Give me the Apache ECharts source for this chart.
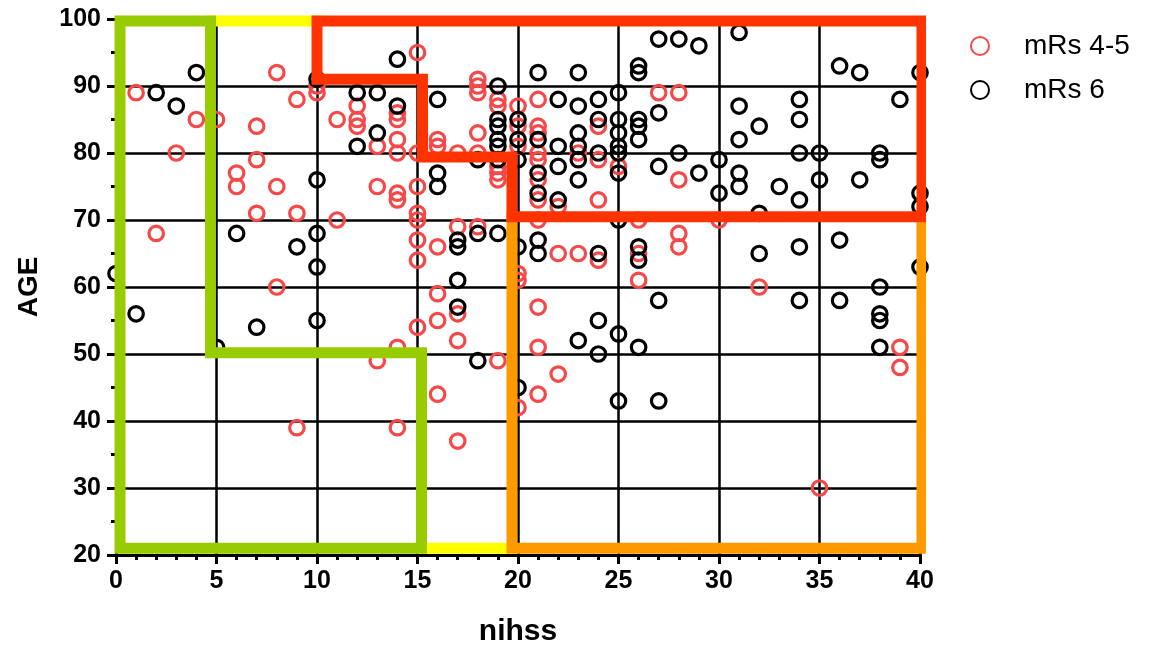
<!DOCTYPE html>
<html>
<head>
<meta charset="utf-8">
<script src="https://cdn.jsdelivr.net/npm/echarts@6/dist/echarts.min.js"></script>
<style>
html,body{margin:0;padding:0;background:#fff;}
#chart{width:1149px;height:647px;}
</style>
</head>
<body>
<div id="chart"></div>
<script>
// ---- data ----
const seriesNames = ['mRs 4-5', 'mRs 6'];
const mrs45 = [[1,89],[2,68],[3,80],[4,85],[5,85],[6,77],[6,75],[7,84],[7,79],[7,71],[8,92],[8,75],[8,60],[9,88],[9,71],[9,39],[10,89],[10,90],[11,85],[11,70],[12,87],[12,85],[12,84],[13,81],[13,75],[13,49],[14,86],[14,85],[14,82],[14,80],[14,74],[14,73],[14,51],[14,39],[15,95],[15,80],[15,75],[15,71],[15,70],[15,67],[15,64],[15,54],[16,82],[16,81],[16,66],[16,59],[16,55],[16,44],[17,80],[17,69],[17,56],[17,52],[17,37],[18,91],[18,90],[18,89],[18,83],[18,80],[18,69],[19,88],[19,87],[19,78],[19,77],[19,76],[19,49],[20,87],[20,84],[20,81],[20,62],[20,61],[20,42],[21,88],[21,84],[21,83],[21,80],[21,79],[21,76],[21,73],[21,70],[21,57],[21,51],[21,44],[22,72],[22,65],[22,47],[23,80],[23,65],[24,84],[24,79],[24,73],[24,64],[25,78],[26,70],[26,65],[26,61],[27,89],[28,89],[28,76],[28,68],[28,66],[30,70],[32,60],[35,30],[39,51],[39,48]];
const mrs6 = [[0,62],[1,56],[2,89],[3,87],[4,92],[5,51],[6,68],[7,54],[9,66],[10,91],[10,76],[10,68],[10,63],[10,55],[12,89],[12,81],[13,89],[13,83],[14,94],[14,87],[16,88],[16,77],[16,75],[17,67],[17,66],[17,61],[17,57],[18,79],[18,68],[18,49],[19,90],[19,85],[19,84],[19,82],[19,81],[19,79],[19,68],[20,85],[20,82],[20,79],[20,66],[20,45],[21,92],[21,82],[21,77],[21,74],[21,67],[21,65],[22,88],[22,81],[22,78],[22,73],[23,92],[23,87],[23,83],[23,81],[23,79],[23,76],[23,52],[24,88],[24,85],[24,80],[24,65],[24,55],[24,50],[25,89],[25,85],[25,83],[25,81],[25,80],[25,77],[25,70],[25,53],[25,43],[26,93],[26,92],[26,85],[26,84],[26,82],[26,66],[26,64],[26,51],[27,97],[27,86],[27,78],[27,58],[27,43],[28,97],[28,80],[29,96],[29,77],[30,79],[30,74],[31,98],[31,87],[31,82],[31,77],[31,75],[32,84],[32,71],[32,65],[33,75],[34,88],[34,85],[34,80],[34,73],[34,66],[34,58],[35,80],[35,76],[36,93],[36,67],[36,58],[37,92],[37,76],[38,80],[38,79],[38,60],[38,56],[38,55],[38,51],[39,88],[40,92],[40,74],[40,72],[40,63]];
// region outlines (nihss, age)
const yellowTop = [[4.7,99.7],[10,99.7]];
const yellowBottom = [[15.2,21],[19.7,21]];
const greenZone = [[0.2,21],[0.2,99.7],[4.7,99.7],[4.7,50.2],[15.2,50.2],[15.2,21],[0.2,21]];
const redZone = [[10,99.7],[40.1,99.7],[40.1,70.5],[19.7,70.5],[19.7,79.4],[15.25,79.4],[15.25,91],[10,91],[10,99.7]];
const orangeZone = [[19.7,70.5],[19.7,21],[40.1,21],[40.1,70.5]];
const xTicks = {min:0, max:40, interval:5};
const yTicks = {min:20, max:100, interval:10};

const FONT = "'Liberation Sans', Arial, sans-serif";
const chart = echarts.init(document.getElementById('chart'), null, {renderer:'canvas'});

function zone(data, color, z) {
  return {
    type:'line', data:data, showSymbol:false, symbol:'none', clip:false, z:z, silent:true,
    lineStyle:{color:color, width:11, join:'miter', cap:'square', opacity:1}
  };
}
const pointStyle = c => ({color:'rgba(0,0,0,0)', borderColor:c, borderWidth:3.2, opacity:1});

chart.setOption({
  animation:false,
  backgroundColor:'#fff',
  grid:{left:116, right:229, top:19, bottom:92, containLabel:false, outerBoundsMode:'none'},
  legend:{
    orient:'vertical', left:965, top:27, itemGap:16, itemWidth:18, itemHeight:18,
    data:seriesNames,
    textStyle:{fontFamily:FONT, fontSize:28, color:'#000', padding:[0,0,0,30]}
  },
  xAxis:{
    type:'value', min:xTicks.min, max:xTicks.max, interval:xTicks.interval,
    name:'nihss', nameLocation:'middle', nameGap:62,
    nameTextStyle:{fontFamily:FONT, fontSize:30, fontWeight:'bold', color:'#000'},
    axisLine:{show:true, onZero:false, lineStyle:{color:'#000', width:3}},
    axisTick:{show:true, length:9, lineStyle:{color:'#000', width:3}},
    minorTick:{show:true, splitNumber:5, length:5, lineStyle:{color:'#000', width:3}},
    splitLine:{show:true, lineStyle:{color:'#000', width:2.5}},
    axisLabel:{fontFamily:FONT, fontSize:25, fontWeight:'bold', color:'#000', margin:14}
  },
  yAxis:{
    type:'value', min:yTicks.min, max:yTicks.max, interval:yTicks.interval,
    name:'AGE', nameLocation:'middle', nameGap:73, nameRotate:90,
    nameTextStyle:{fontFamily:FONT, fontSize:28, fontWeight:'bold', color:'#000'},
    axisLine:{show:true, onZero:false, lineStyle:{color:'#000', width:3}},
    axisTick:{show:true, length:9, lineStyle:{color:'#000', width:3}},
    minorTick:{show:true, splitNumber:2, length:5, lineStyle:{color:'#000', width:3}},
    splitLine:{show:true, lineStyle:{color:'#000', width:2.5}},
    axisLabel:{fontFamily:FONT, fontSize:25, fontWeight:'bold', color:'#000', margin:15}
  },
  series:[
    {name:seriesNames[0], type:'scatter', data:mrs45, symbol:'circle', symbolSize:14.5, z:3, itemStyle:pointStyle('#f54848')},
    {name:seriesNames[1], type:'scatter', data:mrs6, symbol:'circle', symbolSize:14.5, z:4, itemStyle:pointStyle('#000000')},
    zone(yellowTop, '#ffff00', 5),
    zone(yellowBottom, '#ffff00', 5),
    zone(greenZone, '#99cc00', 6),
    zone(orangeZone, '#ff9900', 6),
    zone(redZone, '#ff3300', 7)
  ]
});
</script>
</body>
</html>
